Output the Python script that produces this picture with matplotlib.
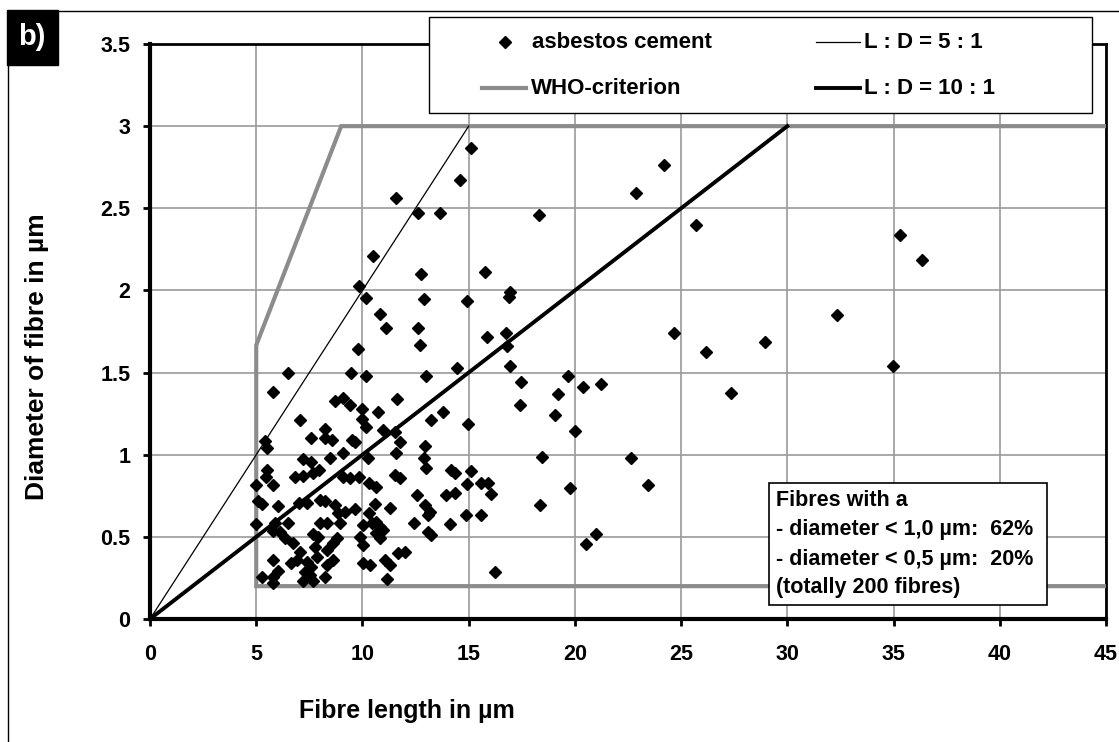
import matplotlib
matplotlib.use("Agg")
import matplotlib.pyplot as plt
from matplotlib.lines import Line2D
from matplotlib.patches import Rectangle

# ---------------- data ----------------
fibre_length = [
    6.51, 5.77, 8.70, 7.06, 8.26, 7.60, 8.23, 8.59, 5.42, 5.49,
    7.21, 7.56, 8.47, 5.49, 5.46, 6.82, 7.21, 7.68, 7.95, 5.00,
    5.77, 5.10, 5.25, 6.04, 7.02, 7.37, 8.00, 8.23, 8.70, 5.00,
    5.88, 5.77, 6.50, 6.11, 6.35, 8.00, 8.31, 7.68, 7.92, 6.74,
    7.06, 6.90, 7.76, 7.84, 8.31, 8.62, 5.77, 5.25, 5.80, 6.04,
    5.77, 6.66, 7.37, 7.60, 7.29, 7.53, 7.21, 7.68, 8.23, 8.31,
    8.62,
    9.80, 12.70, 11.10, 12.60, 15.84, 16.78, 16.80,
    9.44, 10.19, 12.97, 14.43, 16.93, 17.48, 17.40,
    9.09, 9.41, 9.96, 10.71, 11.63, 9.96, 10.19, 10.97, 11.52, 11.76, 13.25, 13.80, 14.97,
    9.49, 9.64, 9.09, 10.27, 11.60, 12.93, 12.89, 13.01,
    9.09, 9.41, 9.85, 10.31, 10.63, 11.52, 11.79, 14.19, 14.35, 15.13, 14.90, 15.60, 15.91,
    16.07, 12.57, 13.95, 14.35,
    11.29, 10.58, 10.31, 9.64, 8.86, 9.17, 12.93, 13.17, 13.09, 14.86, 15.60, 8.94, 12.42, 14.11,
    10.03, 10.43, 10.66, 10.82, 10.97, 10.66, 10.82, 9.88, 10.03, 8.78, 13.09, 13.25,
    10.03, 10.35, 11.05, 11.29, 11.68, 12.00, 11.16, 16.23,
    15.13, 14.58, 11.57, 12.62, 13.67, 18.30, 10.50, 12.75, 15.76, 9.85, 10.16, 12.89, 14.93,
    16.93, 16.90, 10.82,
    24.19, 22.89, 25.72, 19.67, 19.20, 20.38, 21.25, 19.05, 19.99, 24.66, 26.18, 28.94, 27.36,
    18.46, 22.62, 19.79, 23.44, 18.34, 20.98, 20.51,
    35.28, 36.35, 32.33, 34.96,
]
fibre_diameter = [
    1.495, 1.380, 1.330, 1.210, 1.156, 1.100, 1.100, 1.090, 1.083, 1.039,
    0.974, 0.954, 0.978, 0.907, 0.866, 0.866, 0.872, 0.887, 0.907, 0.814,
    0.814, 0.720, 0.700, 0.690, 0.704, 0.704, 0.724, 0.720, 0.694, 0.576,
    0.586, 0.536, 0.586, 0.531, 0.491, 0.586, 0.586, 0.520, 0.500, 0.460,
    0.410, 0.360, 0.440, 0.380, 0.420, 0.460, 0.360, 0.257, 0.257, 0.294,
    0.217, 0.339, 0.349, 0.318, 0.288, 0.268, 0.233, 0.233, 0.257, 0.329,
    0.360,
    1.641, 1.668, 1.770, 1.770, 1.715, 1.740, 1.660,
    1.500, 1.480, 1.480, 1.530, 1.540, 1.445, 1.300,
    1.343, 1.300, 1.276, 1.262, 1.337, 1.215, 1.167, 1.150, 1.140, 1.080, 1.211, 1.262, 1.190,
    1.090, 1.080, 1.010, 0.978, 1.012, 1.053, 0.978, 0.917,
    0.866, 0.856, 0.866, 0.826, 0.805, 0.876, 0.856, 0.907, 0.890, 0.903, 0.822, 0.826, 0.826,
    0.761, 0.755, 0.755, 0.765,
    0.674, 0.700, 0.647, 0.670, 0.647, 0.653, 0.694, 0.653, 0.633, 0.633, 0.633, 0.586, 0.586, 0.578,
    0.572, 0.582, 0.592, 0.562, 0.542, 0.522, 0.491, 0.500, 0.450, 0.491, 0.531, 0.511,
    0.339, 0.329, 0.360, 0.329, 0.400, 0.410, 0.242, 0.288,
    2.865, 2.672, 2.560, 2.474, 2.470, 2.460, 2.210, 2.100, 2.114, 2.027, 1.952, 1.946, 1.937,
    1.992, 1.962, 1.856,
    2.763, 2.595, 2.398, 1.480, 1.368, 1.410, 1.429, 1.242, 1.146, 1.743, 1.623, 1.684, 1.378,
    0.988, 0.978, 0.800, 0.816, 0.694, 0.516, 0.456,
    2.337, 2.185, 1.850, 1.540,
]

who_x = [45, 5, 5, 9, 45]
who_y = [0.2, 0.2, 5 / 3, 3, 3]
ratio5_x = [0, 15]
ratio5_y = [0, 3]
ratio10_x = [0, 30]
ratio10_y = [0, 3]

x_ticks = [0, 5, 10, 15, 20, 25, 30, 35, 40, 45]
y_ticks = [0, 0.5, 1, 1.5, 2, 2.5, 3, 3.5]
y_tick_labels = ["0", "0.5", "1", "1.5", "2", "2.5", "3", "3.5"]

info_lines = [
    "Fibres with a",
    "- diameter < 1,0 µm:  62%",
    "- diameter < 0,5 µm:  20%",
    "(totally 200 fibres)",
]

# ---------------- figure ----------------
plt.rcParams["font.family"] = ["Liberation Sans", "DejaVu Sans"]
plt.rcParams["font.weight"] = "bold"

W, H = 1119, 742
fig = plt.figure(figsize=(W / 100, H / 100), dpi=100)
fig.patch.set_facecolor("white")


def fx(px):
    return px / W


def fy(py):
    return 1 - py / H


ax = fig.add_axes([fx(150), fy(619), (1106 - 150) / W, (619 - 44) / H])
ax.set_xlim(0, 45)
ax.set_ylim(0, 3.5)
ax.set_axisbelow(True)
ax.grid(True, color="#9a9a9a", lw=1.2)

ax.plot(who_x, who_y, color="#8c8c8c", lw=3.0, solid_joinstyle="miter", zorder=3)
ax.plot(ratio5_x, ratio5_y, color="black", lw=0.9, zorder=3)
ax.plot(ratio10_x, ratio10_y, color="black", lw=2.8, zorder=3)
ax.plot(fibre_length, fibre_diameter, linestyle="none", marker="D", ms=6.3,
        color="black", zorder=4)

ax.set_xticks(x_ticks)
ax.set_yticks(y_ticks)
ax.set_yticklabels(y_tick_labels)
ax.tick_params(axis="both", direction="out", length=5, width=2, labelsize=15.5)
ax.tick_params(axis="x", pad=13)
ax.tick_params(axis="y", pad=9)
for lab in ax.get_xticklabels() + ax.get_yticklabels():
    lab.set_fontweight("bold")
for side in ["left", "bottom"]:
    ax.spines[side].set_linewidth(3)
for side in ["top", "right"]:
    ax.spines[side].set_linewidth(2)

# axis titles
fig.text(fx(407), fy(711), "Fibre length in µm", ha="center", va="center",
         fontsize=18, fontweight="bold")
fig.text(fx(37), fy(357), "Diameter of fibre in µm", ha="center", va="center",
         rotation=90, fontsize=19, fontweight="bold")

# figure frame lines
fig.add_artist(Line2D([fx(8), fx(8)], [fy(11), fy(742)], transform=fig.transFigure,
                      color="black", lw=1))
fig.add_artist(Line2D([fx(8), fx(1119)], [fy(11), fy(11)], transform=fig.transFigure,
                      color="black", lw=1))

# panel label
fig.add_artist(Rectangle((fx(7), fy(65)), (58 - 7) / W, (65 - 10) / H,
                         transform=fig.transFigure, facecolor="black",
                         edgecolor="black", zorder=5))
fig.text(fx(32), fy(37), "b)", color="white", ha="center", va="center",
         fontsize=21, fontweight="bold", zorder=6)

# legend
fig.add_artist(Rectangle((fx(429), fy(113)), (1092 - 429) / W, (113 - 17) / H,
                         transform=fig.transFigure, facecolor="white",
                         edgecolor="black", lw=1.0, zorder=5))
fig.add_artist(Line2D([fx(505)], [fy(42)], transform=fig.transFigure, marker="D",
                      ms=6, color="black", linestyle="none", zorder=6))
fig.text(fx(532), fy(42), "asbestos cement", ha="left", va="center",
         fontsize=16, fontweight="bold", zorder=6)
fig.add_artist(Line2D([fx(482), fx(526)], [fy(88), fy(88)], transform=fig.transFigure,
                      color="#8c8c8c", lw=3.0, zorder=6))
fig.text(fx(531), fy(88), "WHO-criterion", ha="left", va="center",
         fontsize=16, fontweight="bold", zorder=6)
fig.add_artist(Line2D([fx(816), fx(860)], [fy(42), fy(42)], transform=fig.transFigure,
                      color="black", lw=0.9, zorder=6))
fig.text(fx(864), fy(42), "L : D = 5 : 1", ha="left", va="center",
         fontsize=16, fontweight="bold", zorder=6)
fig.add_artist(Line2D([fx(816), fx(860)], [fy(88), fy(88)], transform=fig.transFigure,
                      color="black", lw=2.8, zorder=6))
fig.text(fx(864), fy(88), "L : D = 10 : 1", ha="left", va="center",
         fontsize=16, fontweight="bold", zorder=6)

# info box
fig.add_artist(Rectangle((fx(769), fy(605)), (1047 - 769) / W, (605 - 483) / H,
                         transform=fig.transFigure, facecolor="white",
                         edgecolor="black", lw=1.2, zorder=5))
for line, py in zip(info_lines, [500, 530, 559, 588]):
    fig.text(fx(776), fy(py), line, ha="left", va="center", fontsize=15.5,
             fontweight="bold", zorder=6)

fig.savefig("out.png", dpi=100)
